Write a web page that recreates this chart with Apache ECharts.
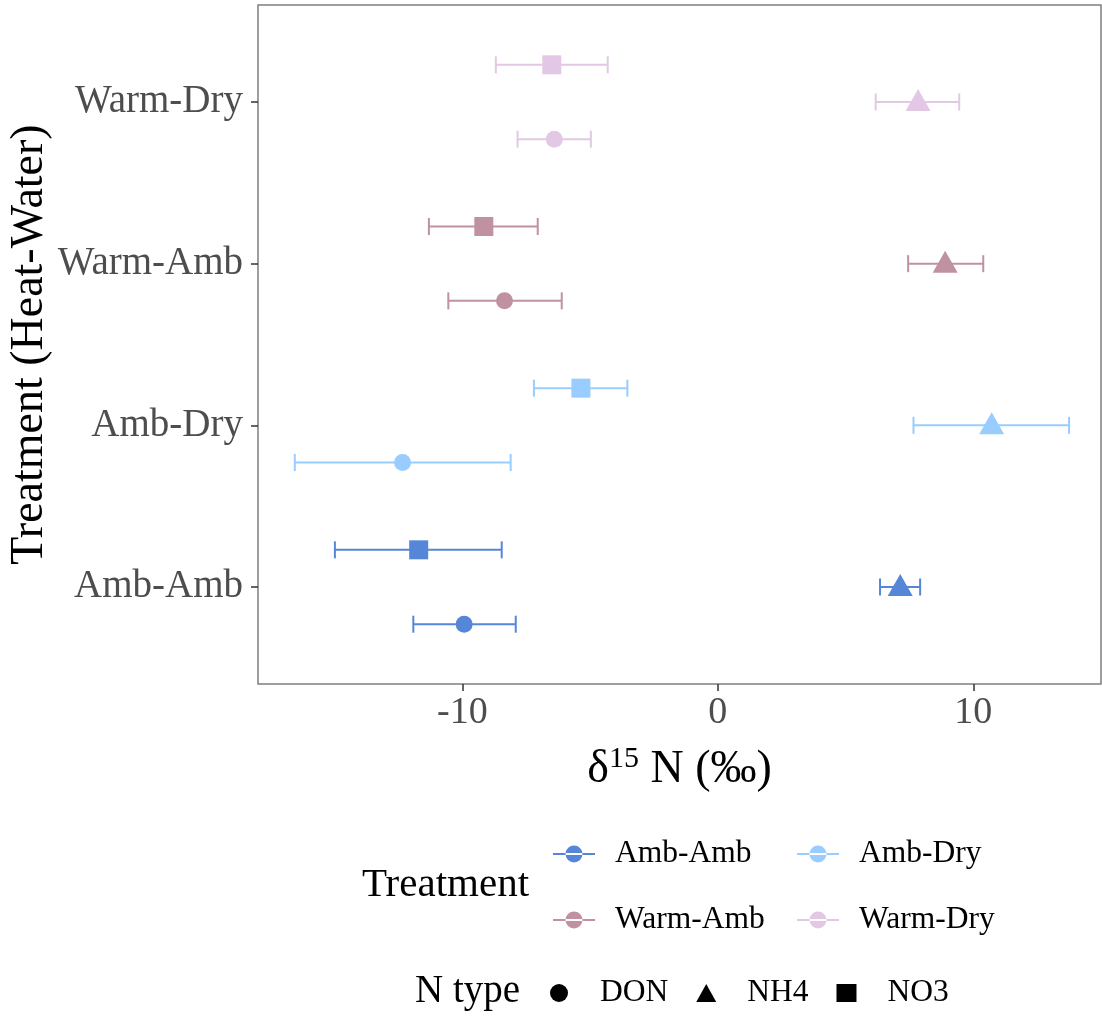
<!DOCTYPE html>
<html>
<head>
<meta charset="utf-8">
<script src="https://cdn.jsdelivr.net/npm/echarts@6/dist/echarts.min.js"></script>
<style>
  html, body { margin: 0; padding: 0; background: #fff; }
  #chart { width: 1102px; height: 1016px; }
</style>
</head>
<body>
<div id="chart"></div>
<script>
// treatments (Heat-Water), bottom to top
const treatments = ["Amb-Amb", "Amb-Dry", "Warm-Amb", "Warm-Dry"];
const nTypes = ["DON", "NH4", "NO3"];
const colors = ["#5586d8", "#99ccff", "#c092a1", "#e2c8e4"];

// delta15N mean and error bar ends, one entry per treatment
const donMean = [-9.93, -12.34, -8.35, -6.40];
const donLow = [-11.92, -16.56, -10.55, -7.84];
const donHigh = [-7.91, -8.11, -6.11, -4.97];

const nh4Mean = [7.14, 10.72, 8.90, 7.84];
const nh4Low = [6.35, 7.66, 7.45, 6.18];
const nh4High = [7.92, 13.75, 10.39, 9.45];

const no3Mean = [-11.71, -5.36, -9.16, -6.50];
const no3Low = [-14.99, -7.20, -11.31, -8.69];
const no3High = [-8.46, -3.54, -7.05, -4.31];

const xTicks = [-10, 0, 10];

const FONT = "Liberation Serif";
const dodge = { DON: -0.23, NH4: 0, NO3: 0.23 };
const shape = { DON: "circle", NH4: "triangle", NO3: "rect" };
const shapeSize = { DON: 17, NH4: [25, 22], NO3: 19 };
const byType = {
  DON: [donMean, donLow, donHigh],
  NH4: [nh4Mean, nh4Low, nh4High],
  NO3: [no3Mean, no3Low, no3High],
};

const errData = [];
nTypes.forEach(function (t) {
  treatments.forEach(function (tr, i) {
    errData.push([byType[t][1][i], byType[t][2][i], i + 1 + dodge[t], i]);
  });
});

const series = [];
series.push({
  type: "custom",
  name: "errorbars",
  z: 1,
  silent: true,
  renderItem: function (params, api) {
    const y = api.value(2);
    const a = api.coord([api.value(0), y]);
    const b = api.coord([api.value(1), y]);
    const c = colors[api.value(3)];
    const st = { stroke: c, lineWidth: 2 };
    const h = 8.5;
    return {
      type: "group",
      children: [
        { type: "line", shape: { x1: a[0], y1: a[1], x2: b[0], y2: b[1] }, style: st },
        { type: "line", shape: { x1: a[0], y1: a[1] - h, x2: a[0], y2: a[1] + h }, style: st },
        { type: "line", shape: { x1: b[0], y1: b[1] - h, x2: b[0], y2: b[1] + h }, style: st },
      ],
    };
  },
  encode: { x: [0, 1], y: 2 },
  data: errData,
});

treatments.forEach(function (tr, i) {
  series.push({
    type: "scatter",
    name: tr,
    z: 3,
    itemStyle: { color: colors[i], opacity: 1 },
    data: nTypes.map(function (t) {
      return {
        value: [byType[t][0][i], i + 1 + dodge[t]],
        symbol: shape[t],
        symbolSize: shapeSize[t],
        symbolOffset: t === "NH4" ? [0, -2] : [0, 0],
      };
    }),
  });
});

// legend-only entries for the N type key
nTypes.forEach(function (t) {
  series.push({
    type: "scatter",
    name: t,
    symbol: shape[t],
    itemStyle: { color: "#000", opacity: 1 },
    data: [],
  });
});

const lineDot = "path://M0 9.1h42v1.8H0z M21 1.5a8.5 8.5 0 1 0 0.001 0z";
const legendText = { fontFamily: FONT, fontSize: 31.5, color: "#000", padding: [0, 0, 0, 15], lineHeight: 30 };

const chart = echarts.init(document.getElementById("chart"));
chart.setOption({
  backgroundColor: "#fff",
  animation: false,
  grid: {
    left: 258, right: 1, top: 5, bottom: 332,
    outerBoundsMode: "none",
    show: true, borderColor: "#7f7f7f", borderWidth: 1.5,
  },
  xAxis: {
    type: "value",
    min: -18,
    max: 15,
    name: "{d|δ}{s|15}{d| N (‰)}",
    nameLocation: "middle",
    nameGap: 60,
    nameMoveOverlap: false,
    nameTextStyle: {
      rich: {
        d: { fontFamily: FONT, fontSize: 46, color: "#000", lineHeight: 52 },
        s: { fontFamily: FONT, fontSize: 30, color: "#000", lineHeight: 30, verticalAlign: "top" },
      },
    },
    axisLine: { show: false, onZero: false },
    splitLine: { show: false },
    axisTick: { show: true, length: 7, customValues: xTicks, lineStyle: { color: "#333", width: 1.5 } },
    axisLabel: {
      customValues: xTicks,
      margin: 10,
      fontFamily: FONT, fontSize: 38, color: "#4d4d4d",
    },
  },
  yAxis: {
    type: "value",
    min: 0.4,
    max: 4.6,
    name: "Treatment (Heat-Water)",
    nameLocation: "middle",
    nameGap: 205,
    nameMoveOverlap: false,
    nameTextStyle: { fontFamily: FONT, fontSize: 46, color: "#000" },
    axisLine: { show: false, onZero: false },
    splitLine: { show: false },
    axisTick: { show: true, length: 7, customValues: [1, 2, 3, 4], lineStyle: { color: "#333", width: 1.5 } },
    axisLabel: {
      customValues: [1, 2, 3, 4],
      margin: 15,
      fontFamily: FONT, fontSize: 39, color: "#4d4d4d",
      formatter: function (v) { return treatments[Math.round(v) - 1]; },
    },
  },
  legend: [
    {
      data: ["Amb-Amb", "Warm-Amb"],
      orient: "vertical", left: 553, top: 838, padding: 0,
      icon: lineDot, itemWidth: 42, itemHeight: 20, itemGap: 34,
      textStyle: legendText, selectedMode: false,
    },
    {
      data: ["Amb-Dry", "Warm-Dry"],
      orient: "vertical", left: 797, top: 838, padding: 0,
      icon: lineDot, itemWidth: 42, itemHeight: 20, itemGap: 34,
      textStyle: legendText, selectedMode: false,
    },
    {
      data: nTypes,
      orient: "horizontal", left: 550, top: 977, padding: 0,
      itemWidth: 20, itemHeight: 18, itemGap: 28,
      textStyle: Object.assign({}, legendText, { padding: [0, 0, 0, 26] }),
      selectedMode: false,
    },
  ],
  graphic: [
    {
      type: "text", left: 362, top: 865,
      style: { text: "Treatment", fontFamily: FONT, fontSize: 41, fill: "#000" },
    },
    {
      type: "text", left: 415, top: 972,
      style: { text: "N type", fontFamily: FONT, fontSize: 39, fill: "#000" },
    },
  ],
  series: series,
});
</script>
</body>
</html>
